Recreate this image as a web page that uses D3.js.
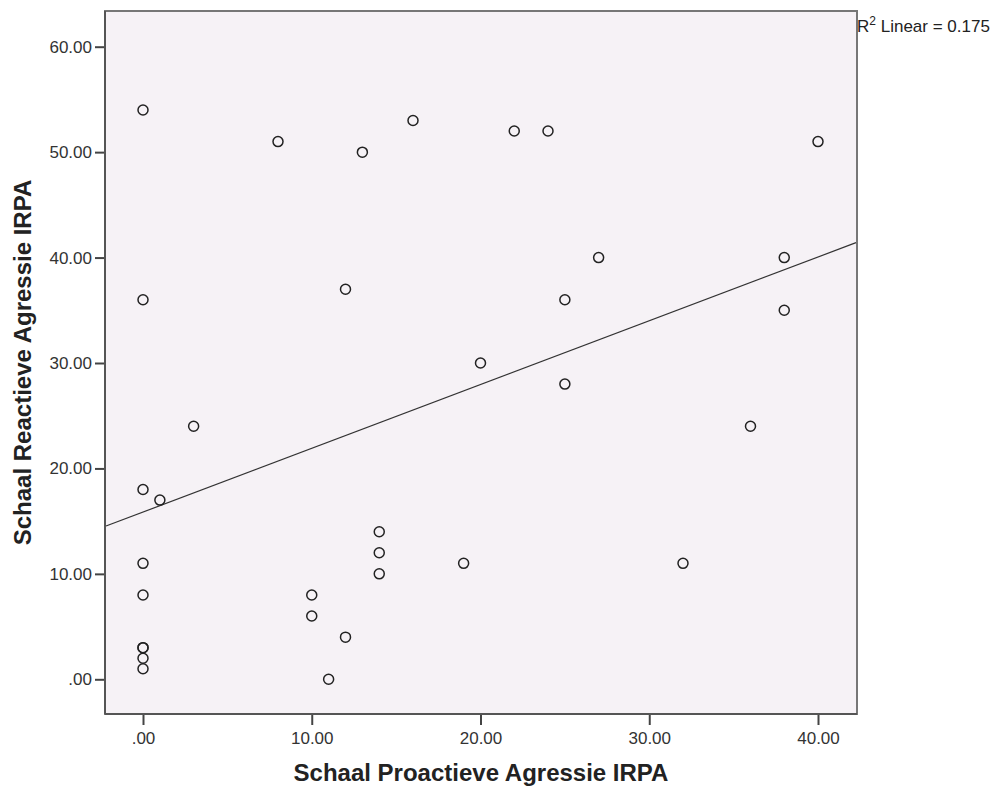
<!DOCTYPE html>
<html>
<head>
<meta charset="utf-8">
<script src="https://cdn.jsdelivr.net/npm/d3@7"></script>
<style>
  body { margin: 0; background: #fff; }
  svg { display: block; font-family: "Liberation Sans", Arial, sans-serif; }
</style>
</head>
<body>
<svg id="chart"></svg>
<script>
// proactive (x) and reactive (y) scores, one entry per respondent
const proactief = [0, 0, 0, 0, 0, 0, 0, 0, 0,
  1, 3, 8, 10, 10, 11, 12, 12, 13, 14, 14, 14, 16, 19, 20, 22, 24, 25, 25, 27, 32, 36, 38, 38, 40];
const reactief = [54, 36, 18, 11, 8, 3, 3, 2, 1,
  17, 24, 51, 8, 6, 0, 37, 4, 50, 14, 12, 10, 53, 11, 30, 52, 52, 36, 28, 40, 11, 24, 40, 35, 51];
const xTicks = [0, 10, 20, 30, 40];
const yTicks = [0, 10, 20, 30, 40, 50, 60];
const fitLabel = "0.175";

const W = 1000, H = 789;
const plot = { left: 105, right: 857, top: 11, bottom: 714 };

const svg = d3.select("#chart").attr("width", W).attr("height", H);

// scales: 0 lands at x=143, 40 at x=818; 0 at y=679, 60 at y=47
const x = d3.scaleLinear().domain([0, 40]).range([143, 818]);
const y = d3.scaleLinear().domain([0, 60]).range([679.3, 46.7]);

// plot background + frame
svg.append("rect")
  .attr("x", plot.left).attr("y", plot.top)
  .attr("width", plot.right - plot.left).attr("height", plot.bottom - plot.top)
  .attr("fill", "#f6f2f6")
  .attr("stroke", "#777").attr("stroke-width", 2);

const fmt = v => d3.format(".2f")(v).replace(/^0\./, ".");

// axes
const xAxis = d3.axisBottom(x).tickValues(xTicks).tickFormat(fmt).tickSize(11).tickPadding(7);
const yAxis = d3.axisLeft(y).tickValues(yTicks).tickFormat(fmt).tickSize(10).tickPadding(3);

const gx = svg.append("g").attr("transform", `translate(0,${plot.bottom})`).call(xAxis);
const gy = svg.append("g").attr("transform", `translate(${plot.left},0)`).call(yAxis);

[gx, gy].forEach(g => {
  g.select(".domain").remove();
  g.selectAll(".tick line").attr("stroke", "#444").attr("stroke-width", 2);
  g.selectAll(".tick text").attr("fill", "#333").style("font-size", "17px");
});
gy.selectAll(".tick text").attr("x", -13);

// left and bottom frame lines darker
svg.append("line").attr("x1", plot.left).attr("x2", plot.left)
  .attr("y1", plot.top).attr("y2", plot.bottom)
  .attr("stroke", "#555").attr("stroke-width", 2);
svg.append("line").attr("x1", plot.left).attr("x2", plot.right)
  .attr("y1", plot.bottom).attr("y2", plot.bottom)
  .attr("stroke", "#555").attr("stroke-width", 2);

// linear fit computed from the data
const mx = d3.mean(proactief), my = d3.mean(reactief);
const sxy = d3.sum(proactief, (v, i) => (v - mx) * (reactief[i] - my));
const sxx = d3.sum(proactief, v => (v - mx) * (v - mx));
const slope = sxy / sxx, icpt = my - slope * mx;
const x0 = x.invert(plot.left + 1), x1 = x.invert(plot.right - 1);

svg.append("line")
  .attr("x1", x(x0)).attr("y1", y(icpt + slope * x0))
  .attr("x2", x(x1)).attr("y2", y(icpt + slope * x1))
  .attr("stroke", "#333").attr("stroke-width", 1.2);

// points
svg.append("g").selectAll("circle")
  .data(proactief.map((v, i) => [v, reactief[i]]))
  .join("circle")
    .attr("cx", d => x(d[0]))
    .attr("cy", d => y(d[1]))
    .attr("r", 5)
    .attr("fill", "none")
    .attr("stroke", "#222")
    .attr("stroke-width", 1.5);

// R² label
const r2 = svg.append("text").attr("x", plot.right).attr("y", 32)
  .attr("fill", "#222").style("font-size", "17px");
r2.append("tspan").text("R");
r2.append("tspan").attr("dy", -7).style("font-size", "12px").text("2");
r2.append("tspan").attr("dy", 7).text(" Linear = " + fitLabel);

// axis titles
svg.append("text")
  .attr("x", (plot.left + plot.right) / 2).attr("y", 781)
  .attr("text-anchor", "middle")
  .attr("fill", "#222")
  .style("font-size", "24px").style("font-weight", "bold")
  .text("Schaal Proactieve Agressie IRPA");

svg.append("text")
  .attr("transform", `translate(31,${(plot.top + plot.bottom) / 2}) rotate(-90)`)
  .attr("text-anchor", "middle")
  .attr("fill", "#222")
  .style("font-size", "24px").style("font-weight", "bold")
  .text("Schaal Reactieve Agressie IRPA");
</script>
</body>
</html>
